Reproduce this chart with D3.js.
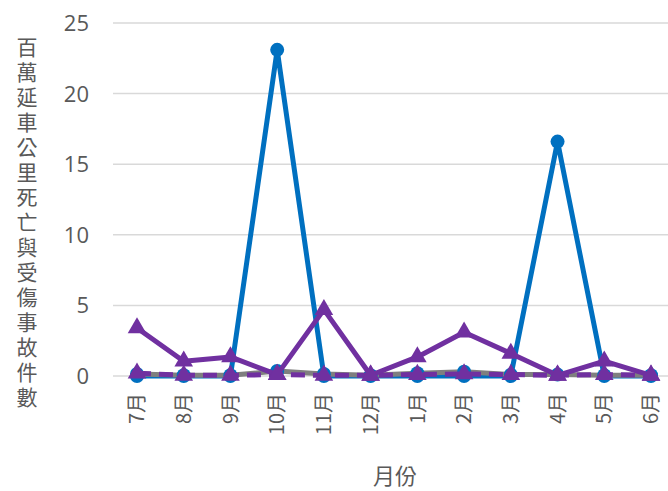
<!DOCTYPE html>
<html>
<head>
<meta charset="utf-8">
<script src="https://cdn.jsdelivr.net/npm/d3@7"></script>
<style>
  body { margin: 0; background: #fff; }
  text { font-family: "Noto Sans CJK TC", "Noto Sans", sans-serif; fill: #595959; }
</style>
</head>
<body>
<svg id="chart" width="668" height="491"></svg>
<script>
const months = ["7月", "8月", "9月", "10月", "11月", "12月", "1月", "2月", "3月", "4月", "5月", "6月"];
const yTicks = [0, 5, 10, 15, 20, 25];
const yTitle = "百萬延車公里死亡與受傷事故件數";
const xTitle = "月份";

const blueSeries = [0, 0, 0, 23.1, 0, 0, 0, 0, 0, 16.6, 0, 0];
const graySeries = [0.15, 0.05, 0.05, 0.35, 0.15, 0.05, 0.2, 0.3, 0.1, 0.1, 0.05, 0.05];
const purpleDashed = [0.2, 0.05, 0.05, 0.1, 0.05, 0.05, 0.1, 0.15, 0.1, 0.05, 0.1, 0.05];
const purpleSeries = [3.4, 1.05, 1.35, 0.1, 4.7, 0.05, 1.35, 3.1, 1.6, 0.05, 1.05, 0.05];

const svg = d3.select("#chart");

const x = d3.scalePoint().domain(months).range([137, 651]);
const y = d3.scaleLinear().domain([0, 25]).range([376, 23]);

// gridlines
svg.append("g")
  .selectAll("line")
  .data(yTicks)
  .join("line")
  .attr("x1", 113).attr("x2", 668)
  .attr("y1", d => y(d)).attr("y2", d => y(d))
  .attr("stroke", "#d9d9d9")
  .attr("stroke-width", 1.5);

// y tick labels
svg.append("g")
  .selectAll("text")
  .data(yTicks)
  .join("text")
  .attr("x", 89)
  .attr("y", d => y(d))
  .attr("dy", "0.36em")
  .attr("text-anchor", "end")
  .attr("font-size", "22px")
  .style("font-family", "'Open Sans', 'Noto Sans', sans-serif")
  .text(d => d);

// x tick labels, rotated
svg.append("g")
  .selectAll("text")
  .data(months)
  .join("text")
  .attr("transform", d => `translate(${x(d)},393) rotate(-90)`)
  .attr("dy", "0.36em")
  .attr("text-anchor", "end")
  .attr("font-size", "20px")
  .text(d => d);

// y title, stacked characters
svg.append("g")
  .selectAll("text")
  .data(yTitle.split(""))
  .join("text")
  .attr("x", 27)
  .attr("y", (d, i) => 47 + i * 25)
  .attr("dy", "0.36em")
  .attr("text-anchor", "middle")
  .attr("font-size", "21px")
  .text(d => d);

svg.append("text")
  .attr("x", 395)
  .attr("y", 484)
  .attr("text-anchor", "middle")
  .attr("font-size", "22px")
  .text(xTitle);

const line = d3.line().x((d, i) => x(months[i])).y(d => y(d));
const tri = d3.symbol().type(d3.symbolTriangle).size(150);

function drawSeries(values, color, opts) {
  const g = svg.append("g");
  g.append("path")
    .datum(values)
    .attr("d", line)
    .attr("fill", "none")
    .attr("stroke", color)
    .attr("stroke-width", 5)
    .attr("stroke-linejoin", "round")
    .attr("stroke-dasharray", opts.dash || null);
  if (opts.marker === "circle") {
    g.selectAll("circle")
      .data(values)
      .join("circle")
      .attr("cx", (d, i) => x(months[i]))
      .attr("cy", d => y(d))
      .attr("r", 7)
      .attr("fill", opts.markerColor || color);
  } else if (opts.marker === "triangle") {
    g.selectAll("path.m")
      .data(values)
      .join("path")
      .attr("class", "m")
      .attr("d", tri)
      .attr("transform", (d, i) => `translate(${x(months[i])},${y(d)})`)
      .attr("fill", opts.markerColor || color);
  }
}

drawSeries(blueSeries, "#0070C0", { marker: "circle" });
drawSeries(graySeries, "#7f7f7f", { marker: "circle", markerColor: "#0070C0" });
drawSeries(purpleDashed, "#7030A0", { marker: "triangle", dash: "14,8" });
drawSeries(purpleSeries, "#7030A0", { marker: "triangle" });
</script>
</body>
</html>
